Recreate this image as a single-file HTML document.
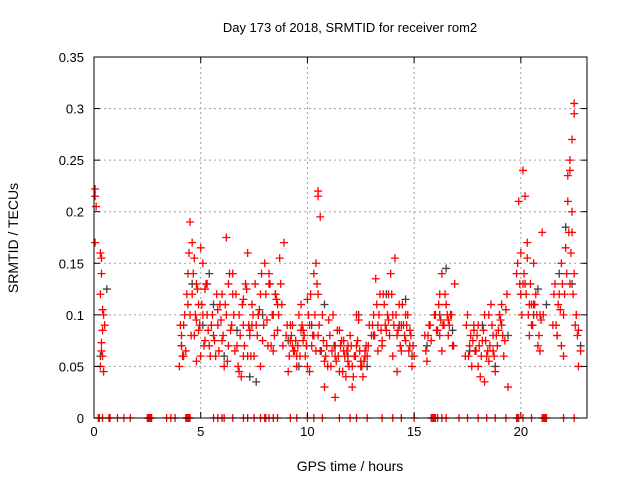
<!DOCTYPE html>
<html><head><meta charset="utf-8"><style>
body{margin:0;background:#fff}
svg{display:block;font-family:"Liberation Sans",sans-serif}
</style></head><body>
<svg id="chart" width="640" height="480">
<text x="350" y="32" font-size="13" text-anchor="middle">Day 173 of 2018, SRMTID for receiver rom2</text>
<text x="350" y="471" font-size="14" text-anchor="middle">GPS time / hours</text>
<text transform="translate(18,238) rotate(-90)" font-size="14" text-anchor="middle">SRMTID / TECUs</text>
<g id="grid"></g><g id="gray"></g><g id="red"></g><g id="axes"></g>
</svg>
<script>
const xTicks=[0,5,10,15,20];
const yTicks=[0,0.05,0.1,0.15,0.2,0.25,0.3,0.35];
const yTickLabels=["0","0.05","0.1","0.15","0.2","0.25","0.3","0.35"];
const redX=[0.05,0.05,0.1,0.05,0.3,0.35,0.3,0.35,0.4,0.45,0.4,0.35,0.3,0.45,0.5,0.4,0.35,
4.0,4.1,4.2,4.3,4.4,4.5,4.6,4.6,4.7,4.7,4.8,4.8,4.9,5.0,5.0,5.1,5.2,5.2,5.3,5.4,5.5,4.2,4.5,4.9,5.3,4.1,4.4,4.8,5.1,
5.6,5.7,5.8,5.9,6.0,6.1,6.2,6.3,6.4,6.5,6.6,6.7,6.8,6.9,7.0,7.1,7.2,7.3,7.4,7.5,7.6,7.7,7.8,7.9,8.0,8.1,8.2,8.3,8.4,8.5,8.6,8.7,8.8,6.0,6.5,7.0,7.4,7.8,8.2,8.6,5.8,6.3,6.8,7.3,7.7,8.4,8.9,6.2,7.0,7.2,
9.0,9.1,9.2,9.3,9.4,9.5,9.6,9.7,9.8,9.9,10.0,10.1,10.2,10.3,10.4,10.5,10.6,10.5,10.5,10.5,10.7,10.8,10.9,11.0,9.2,9.5,9.8,10.1,10.4,10.8,9.3,9.7,10.0,10.3,10.9,
11.1,11.2,11.3,11.4,11.5,11.6,11.7,11.8,11.9,12.0,12.1,12.2,12.3,12.4,12.5,12.6,12.7,12.8,12.9,11.3,11.7,12.1,12.5,12.3,11.5,11.9,12.7,
13.0,13.1,13.2,13.3,13.4,13.5,13.6,13.7,13.8,13.9,14.0,14.1,14.2,14.3,14.4,14.5,14.6,14.7,14.8,14.9,13.3,13.8,14.2,14.6,13.5,14.0,14.4,14.8,15.0,
15.5,15.6,15.7,15.8,16.0,16.1,16.2,16.3,16.4,16.5,16.6,16.7,16.8,16.9,16.3,16.6,16.2,
17.4,17.5,17.6,17.7,17.8,17.9,18.0,18.1,18.2,18.3,18.4,18.5,18.6,18.7,18.8,18.9,19.0,19.1,19.2,19.3,19.4,17.8,18.3,18.7,19.1,18.0,18.5,
19.8,19.9,20.0,20.1,20.2,20.3,20.4,20.5,20.6,20.7,20.8,20.9,21.0,20.2,20.1,20.3,20.4,20.6,20.9,20.0,20.5,
21.5,21.6,21.7,21.8,21.9,22.0,22.1,22.2,22.3,22.3,22.4,22.4,22.5,22.5,22.6,22.7,22.8,22.3,22.4,22.5,22.6,21.7,22.0,22.2,22.7,21.9,
4.05,4.15,4.25,4.35,4.45,4.55,4.65,4.75,4.85,4.95,5.05,5.15,5.25,5.35,5.45,5.55,5.65,5.75,5.85,5.95,6.05,6.15,6.25,6.35,6.45,6.55,6.65,6.75,6.85,6.95,7.05,7.15,7.25,7.35,7.45,7.55,7.65,7.75,7.85,7.95,8.05,8.15,8.25,8.35,8.45,8.55,8.65,8.75,8.85,
9.05,9.15,9.25,9.35,9.45,9.55,9.65,9.75,9.85,9.95,10.05,10.15,10.25,10.35,10.45,10.55,10.65,10.75,10.85,10.95,11.05,11.15,11.25,11.35,11.45,11.55,11.65,11.75,11.85,11.95,12.05,12.15,12.25,12.35,12.45,12.55,12.65,12.75,12.85,
13.05,13.15,13.25,13.35,13.45,13.55,13.65,13.75,13.85,13.95,14.05,14.15,14.25,14.35,14.45,14.55,14.65,14.75,14.85,14.95,
15.55,15.65,15.75,15.95,16.05,16.15,16.25,16.35,16.45,16.55,16.65,16.75,16.85,
17.45,17.55,17.65,17.75,17.85,17.95,18.05,18.15,18.25,18.35,18.45,18.55,18.65,18.75,18.85,18.95,19.05,19.15,19.25,19.35,
19.85,19.95,20.05,20.15,20.25,20.35,20.45,20.55,20.65,20.75,20.85,20.95,21.05,21.55,21.65,21.75,21.85,21.95,22.05,22.15,22.25,22.35,22.45,22.55,22.65,22.75];
const redY=[0.17,0.215,0.205,0.222,0.16,0.155,0.12,0.14,0.105,0.1,0.085,0.065,0.05,0.045,0.09,0.06,0.073,
0.05,0.08,0.09,0.065,0.14,0.19,0.17,0.12,0.155,0.08,0.13,0.095,0.11,0.165,0.06,0.15,0.125,0.075,0.1,0.07,0.09,0.06,0.1,0.085,0.13,0.07,0.11,0.055,0.1,
0.08,0.06,0.09,0.11,0.075,0.05,0.1,0.13,0.085,0.12,0.065,0.07,0.1,0.04,0.09,0.13,0.16,0.08,0.11,0.06,0.09,0.1,0.12,0.075,0.15,0.095,0.14,0.07,0.1,0.12,0.085,0.155,0.11,0.12,0.14,0.06,0.09,0.05,0.13,0.11,0.105,0.07,0.045,0.085,0.1,0.065,0.17,0.175,0.115,
0.06,0.08,0.045,0.09,0.07,0.065,0.05,0.1,0.085,0.075,0.06,0.115,0.09,0.07,0.14,0.15,0.12,0.195,0.215,0.22,0.08,0.1,0.055,0.07,0.095,0.075,0.06,0.085,0.045,0.065,0.03,0.09,0.11,0.05,0.08,
0.07,0.05,0.1,0.06,0.085,0.045,0.075,0.065,0.04,0.055,0.08,0.03,0.06,0.07,0.095,0.05,0.04,0.065,0.06,0.09,0.02,0.075,0.05,0.055,0.1,0.085,0.07,
0.06,0.08,0.1,0.135,0.09,0.12,0.07,0.11,0.085,0.095,0.14,0.1,0.155,0.08,0.11,0.065,0.09,0.075,0.1,0.085,0.05,0.065,0.12,0.045,0.1,0.075,0.06,0.09,0.07,
0.06,0.08,0.055,0.09,0.075,0.1,0.085,0.12,0.14,0.09,0.11,0.08,0.1,0.07,0.13,0.065,0.095,
0.08,0.06,0.1,0.07,0.05,0.085,0.065,0.09,0.04,0.075,0.1,0.06,0.055,0.11,0.08,0.045,0.07,0.1,0.09,0.06,0.105,0.03,0.09,0.035,0.065,0.11,0.05,
0.1,0.14,0.21,0.16,0.24,0.13,0.17,0.11,0.09,0.15,0.12,0.07,0.1,0.18,0.215,0.13,0.155,0.08,0.11,0.065,0.12,
0.11,0.09,0.13,0.08,0.12,0.15,0.1,0.165,0.21,0.24,0.25,0.18,0.27,0.295,0.305,0.1,0.085,0.065,0.13,0.2,0.14,0.1,0.08,0.06,0.235,0.05,
0.07,0.09,0.06,0.1,0.12,0.16,0.08,0.14,0.1,0.125,0.09,0.11,0.07,0.13,0.085,0.06,0.1,0.075,0.12,0.065,0.095,0.08,0.11,0.055,0.14,0.09,0.1,0.12,0.05,0.08,0.11,0.07,0.125,0.09,0.06,0.1,0.13,0.08,0.105,0.14,0.09,0.12,0.07,0.13,0.1,0.08,0.115,0.1,0.13,
0.07,0.09,0.06,0.08,0.065,0.075,0.07,0.06,0.09,0.08,0.07,0.1,0.12,0.08,0.1,0.13,0.09,0.065,0.075,0.06,0.05,0.08,0.065,0.07,0.055,0.06,0.07,0.045,0.06,0.065,0.05,0.07,0.04,0.06,0.075,0.065,0.05,0.055,0.07,
0.07,0.09,0.08,0.11,0.1,0.085,0.12,0.09,0.1,0.08,0.12,0.09,0.1,0.085,0.07,0.11,0.08,0.09,0.065,0.08,
0.07,0.065,0.08,0.09,0.1,0.085,0.11,0.095,0.09,0.12,0.1,0.09,0.1,
0.07,0.09,0.06,0.08,0.075,0.065,0.08,0.07,0.06,0.085,0.075,0.065,0.07,0.09,0.06,0.08,0.085,0.095,0.08,0.075,
0.12,0.15,0.13,0.1,0.14,0.12,0.1,0.13,0.09,0.11,0.1,0.08,0.095,0.1,0.12,0.09,0.11,0.105,0.13,0.12,0.14,0.18,0.16,0.12,0.09,0.08];
const grayX=[0.3,0.6,4.1,4.6,5.1,5.6,6.1,6.7,7.3,7.9,8.5,9.1,9.6,10.2,10.8,11.3,11.9,12.4,13.1,13.7,14.3,14.9,15.6,16.2,16.8,17.6,18.2,18.8,19.4,20.0,20.6,21.2,21.8,22.4,22.8,5.4,7.6,10.6,12.8,14.6,16.5,19.0,20.8,22.1];
const grayY=[0.06,0.125,0.07,0.13,0.09,0.11,0.06,0.085,0.04,0.1,0.12,0.075,0.05,0.09,0.11,0.07,0.06,0.1,0.08,0.12,0.09,0.06,0.07,0.1,0.085,0.065,0.09,0.05,0.08,0.12,0.1,0.11,0.14,0.13,0.07,0.14,0.035,0.065,0.05,0.115,0.145,0.1,0.125,0.185];
const zeroX=[0.2,0.25,0.4,0.7,0.75,1.1,1.4,1.7,2.5,2.55,2.6,2.65,2.7,3.4,3.6,3.8,4.3,4.35,4.4,4.45,4.5,5.6,5.8,6.0,6.1,6.5,7.0,7.2,7.5,7.8,8.0,8.05,8.2,8.4,8.6,9.2,9.5,10.0,10.3,10.7,11.5,12.0,12.3,12.8,13.5,14.0,14.4,15.0,15.8,15.85,15.9,15.95,16.0,16.1,16.3,16.5,17.1,17.5,18.0,18.4,18.8,19.3,19.8,19.85,19.9,20.1,20.5,21.0,21.05,21.1,21.15,21.2,22.0,22.5];
const X0=94,X1=587,Y0=418,Y1=57,XMAX=23.1,YMAX=0.35;
const sx=v=>X0+v/XMAX*(X1-X0), sy=v=>Y0-v/YMAX*(Y0-Y1);
const NS="http://www.w3.org/2000/svg";
function mk(t,a,p){const e=document.createElementNS(NS,t);for(const k in a)e.setAttribute(k,a[k]);p.appendChild(e);return e;}
const grid=document.getElementById('grid'),axes=document.getElementById('axes');
xTicks.forEach(t=>{const x=sx(t);
 if(t>0){const g=mk('line',{x1:x,x2:x,y1:Y1,y2:Y0,stroke:'#a0a0a0','stroke-dasharray':'2,3'},grid);
 
 }
 mk('line',{x1:x,x2:x,y1:Y0,y2:Y0-6,stroke:'#000'},axes);mk('line',{x1:x,x2:x,y1:Y1,y2:Y1+6,stroke:'#000'},axes);
 const l=mk('text',{x:x,y:Y0+18,'font-size':13,'text-anchor':'middle'},axes);l.textContent=t;
 
 });
yTicks.forEach((t,i)=>{const y=sy(t);
 if(t>0&&t<YMAX){const g=mk('line',{x1:X0,x2:X1,y1:y,y2:y,stroke:'#a0a0a0','stroke-dasharray':'2,3'},grid);
 
 }
 mk('line',{x1:X0,x2:X0+6,y1:y,y2:y,stroke:'#000'},axes);mk('line',{x1:X1,x2:X1-6,y1:y,y2:y,stroke:'#000'},axes);
 const l=mk('text',{x:X0-10,y:y+5,'font-size':13,'text-anchor':'end'},axes);l.textContent=yTickLabels[i];
 
 });
const fr=mk('rect',{x:X0,y:Y1,width:X1-X0,height:Y0-Y1,fill:'none',stroke:'#000'},axes);


function plus(x,y,c,g,name){const p=mk('path',{d:`M${x-4},${y}h8M${x},${y-4}v8`,stroke:c,'stroke-width':1.3},g);
 
 }
const gg=document.getElementById('gray'),rg=document.getElementById('red');
grayX.forEach((v,i)=>plus(sx(v),sy(grayY[i]),'#404040',gg,'gray-point'));
redX.forEach((v,i)=>plus(sx(v),sy(redY[i]),'#ff0000',rg,'red-point'));
zeroX.forEach(v=>plus(sx(v),sy(0),'#ff0000',rg,'zero-point'));
</script>
</body></html>
